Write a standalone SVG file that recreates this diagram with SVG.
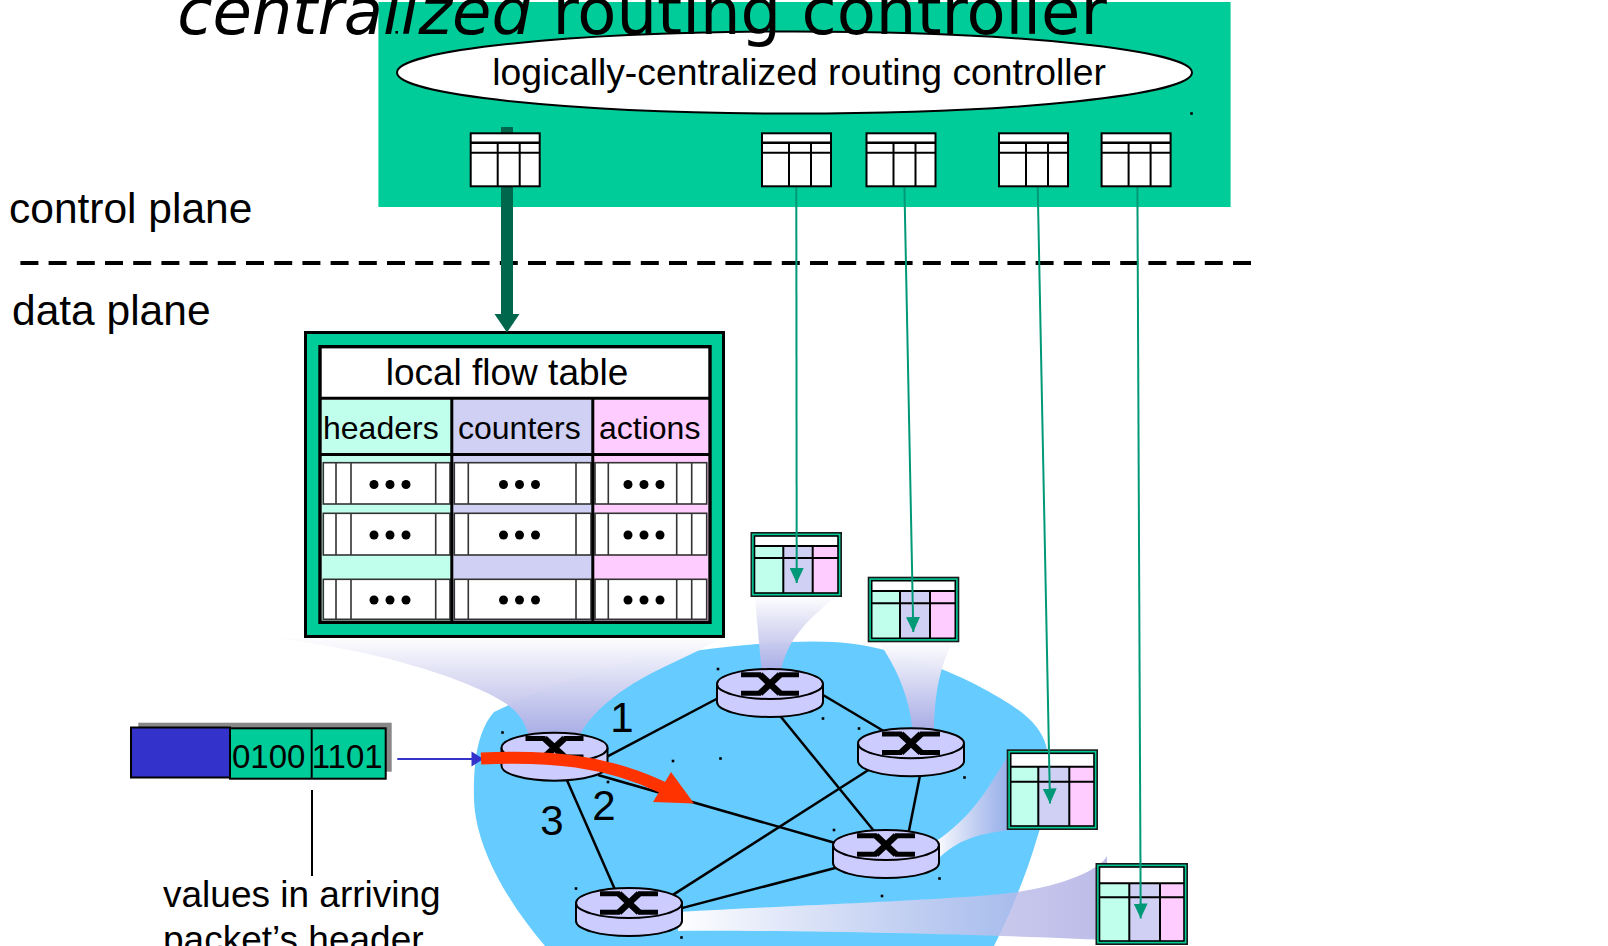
<svg xmlns="http://www.w3.org/2000/svg" xmlns:xlink="http://www.w3.org/1999/xlink" width="1608" height="946" viewBox="0 0 1608 946">
<style>
  .sans { font-family: "Liberation Sans", Arial, sans-serif; fill: #000; }
  .title { font-family: "DejaVu Sans", "Liberation Sans", sans-serif; fill: #000; }
  .link { stroke: #000; stroke-width: 2.5; fill: none; }
  .feed { stroke: #009977; stroke-width: 2; fill: none; marker-end: url(#tip); }
  .mint { fill: #C0FFEC; }
  .lav { fill: #D0D0F4; }
  .pink { fill: #FFCCFF; }
  .entry { fill: #fff; stroke: #333; stroke-width: 1.6; }
  .sub { stroke: #333; stroke-width: 1.6; fill: none; }
  .frame { fill: #00CC99; stroke: #1a1a1a; stroke-width: 1.6; }
  .inner { fill: none; stroke: #000; stroke-width: 1.6; }
  .mgrid { stroke: #000; stroke-width: 2; fill: none; }
  .handle { fill: #000; }
</style>
<defs>
  <marker id="tip" markerUnits="userSpaceOnUse" viewBox="0 0 15 14" markerWidth="15" markerHeight="14" refX="15" refY="7" orient="auto">
    <path d="M0,0 L15,7 L0,14 z" fill="#009977"/>
  </marker>
  <linearGradient id="fadeDown" x1="0" y1="0" x2="0" y2="1">
    <stop offset="0" stop-color="#fff"/>
    <stop offset="1" stop-color="#A6A6E2" stop-opacity="0.95"/>
  </linearGradient>
  <linearGradient id="fadeRight" x1="0" y1="0" x2="1" y2="0">
    <stop offset="0" stop-color="#fff"/>
    <stop offset="1" stop-color="#A6A6E2" stop-opacity="0.75"/>
  </linearGradient>
  <g id="router">
    <path d="M-53,0 V18 A53,15 0 0 0 53,18 V0" fill="#CCCCFF" stroke="#000" stroke-width="2"/>
    <ellipse cx="0" cy="0" rx="53" ry="15" fill="#CCCCFF" stroke="#000" stroke-width="2"/>
    <path d="M-29,-9.3 H-9 M9,-9.3 H29 M-29,9.3 H-9 M9,9.3 H29" fill="none" stroke="#000" stroke-width="5"/>
    <path d="M-10,-9.3 L10,9.3 M-10,9.3 L10,-9.3" fill="none" stroke="#000" stroke-width="6.5"/>
  </g>
  <g id="ctl-table">
    <rect x="0" y="0" width="69" height="53" fill="#fff" stroke="#000" stroke-width="2"/>
    <path d="M0,9.5 H69" stroke="#000" stroke-width="2.5"/>
    <path d="M0,19.5 H69 M27,9.5 V53 M49,9.5 V53" stroke="#000" stroke-width="2" fill="none"/>
  </g>
  <g id="dots">
    <circle cx="-16" cy="0" r="4.5"/>
    <circle cx="0" cy="0" r="4.5"/>
    <circle cx="16" cy="0" r="4.5"/>
  </g>
</defs>

<!-- network cloud -->
<path id="cloud" fill="#66CCFF" d="M545,946 C510,905 476,850 474,800 C473,760 478,730 494,712 C540,690 590,672 625,663 C680,652 730,645 790,642 C830,640 860,643 885,650 C930,662 970,680 1000,698 C1025,713 1045,728 1048,755 C1050,790 1045,815 1038,835 C1028,870 1012,910 994,946 Z"/>

<!-- zoom-in callouts from routers to their flow tables -->
<g id="callouts">
  <path fill="url(#fadeDown)" d="M273,638 C380,650 470,680 505,703 C520,713 527,725 530,742 L576,742 C590,712 620,688 664,667 C690,655 710,645 724,636 Z"/>
  <path fill="url(#fadeDown)" d="M755,595 C757,625 760,650 762,676 L780,676 C785,645 800,625 838,595 Z"/>
  <path fill="url(#fadeDown)" d="M878,641 C895,665 910,695 913,735 L934,735 C934,700 938,670 953,641 Z"/>
  <path fill="url(#fadeRight)" d="M935,842 C975,815 990,785 1010,752 L1010,830 C970,835 955,842 935,862 Z"/>
  <path fill="url(#fadeRight)" d="M678,912 C800,905 950,900 1010,893 C1060,887 1100,870 1107,856 L1107,940 C1000,935 800,930 678,931 Z"/>
</g>

<!-- control / data plane divider -->
<line x1="20.4" y1="263" x2="1252" y2="263" stroke="#000" stroke-width="4.2" stroke-dasharray="18 10.2"/>
<text class="sans" x="9" y="222.5" font-size="42.5">control plane</text>
<text class="sans" x="12" y="325" font-size="42.5">data plane</text>

<!-- router links -->
<g id="links">
  <line class="link" x1="600" y1="760.4" x2="724" y2="695"/>
  <line class="link" x1="818" y1="692" x2="887" y2="733"/>
  <line class="link" x1="779" y1="714.5" x2="876" y2="833.5"/>
  <line class="link" x1="870" y1="769" x2="667" y2="898.6"/>
  <line class="link" x1="920.3" y1="774" x2="908.3" y2="834"/>
  <line class="link" x1="598" y1="775" x2="838" y2="843.8"/>
  <line class="link" x1="566" y1="778" x2="616" y2="892"/>
  <line class="link" x1="838" y1="867.2" x2="676" y2="909.6"/>
</g>

<g id="router-1"><use xlink:href="#router" href="#router" transform="translate(554.5,747.7)"/></g>
<g id="router-2"><use xlink:href="#router" href="#router" transform="translate(770,684)"/></g>
<g id="router-3"><use xlink:href="#router" href="#router" transform="translate(911,743.3)"/></g>
<g id="router-4"><use xlink:href="#router" href="#router" transform="translate(886,845)"/></g>
<g id="router-5"><use xlink:href="#router" href="#router" transform="translate(629,903)"/></g>

<!-- port labels -->
<text class="sans" x="622" y="732" font-size="42" text-anchor="middle">1</text>
<text class="sans" x="604" y="820" font-size="42" text-anchor="middle">2</text>
<text class="sans" x="552" y="835" font-size="42" text-anchor="middle">3</text>

<!-- local flow table -->
<g id="flow-table">
  <rect x="305.5" y="332.5" width="418" height="304" fill="#00CC99" stroke="#000" stroke-width="3"/>
  <rect x="320" y="346.7" width="390" height="275.6" fill="#fff"/>
  <rect class="mint" x="321.7" y="399.8" width="130" height="221"/>
  <rect class="lav" x="451.7" y="399.8" width="141" height="221"/>
  <rect class="pink" x="592.8" y="399.8" width="115.5" height="221"/>
  <!-- entries -->
  <rect class="entry" x="323.3" y="462.7" width="126.7" height="41.3"/>
  <rect class="entry" x="454.3" y="462.7" width="136.7" height="41.3"/>
  <rect class="entry" x="595" y="462.7" width="111.7" height="41.3"/>
  <path class="sub" d="M336,462.7V504 M351,462.7V504 M435.7,462.7V504 M468.3,462.7V504 M576,462.7V504 M608.3,462.7V504 M676.7,462.7V504 M691.7,462.7V504"/>
  <rect class="entry" x="323.3" y="513.3" width="126.7" height="41.7"/>
  <rect class="entry" x="454.3" y="513.3" width="136.7" height="41.7"/>
  <rect class="entry" x="595" y="513.3" width="111.7" height="41.7"/>
  <path class="sub" d="M336,513.3V555 M351,513.3V555 M435.7,513.3V555 M468.3,513.3V555 M576,513.3V555 M608.3,513.3V555 M676.7,513.3V555 M691.7,513.3V555"/>
  <rect class="entry" x="323.3" y="579.3" width="126.7" height="40"/>
  <rect class="entry" x="454.3" y="579.3" width="136.7" height="40"/>
  <rect class="entry" x="595" y="579.3" width="111.7" height="40"/>
  <path class="sub" d="M336,579.3V619.3 M351,579.3V619.3 M435.7,579.3V619.3 M468.3,579.3V619.3 M576,579.3V619.3 M608.3,579.3V619.3 M676.7,579.3V619.3 M691.7,579.3V619.3"/>
  <use xlink:href="#dots" href="#dots" x="390" y="484.5"/>
  <use xlink:href="#dots" href="#dots" x="519.5" y="484.5"/>
  <use xlink:href="#dots" href="#dots" x="644" y="484.5"/>
  <use xlink:href="#dots" href="#dots" x="390" y="535"/>
  <use xlink:href="#dots" href="#dots" x="519.5" y="535"/>
  <use xlink:href="#dots" href="#dots" x="644" y="535"/>
  <use xlink:href="#dots" href="#dots" x="390" y="600"/>
  <use xlink:href="#dots" href="#dots" x="519.5" y="600"/>
  <use xlink:href="#dots" href="#dots" x="644" y="600"/>
  <!-- grid -->
  <rect x="320" y="346.7" width="390" height="275.6" fill="none" stroke="#000" stroke-width="3.4"/>
  <path d="M320,398.3 H710 M320,454.5 H710 M451.8,397 V622 M592.8,397 V622" stroke="#000" stroke-width="3" fill="none"/>
  <text class="sans" x="507" y="385" font-size="37" text-anchor="middle">local flow table</text>
  <text class="sans" x="323" y="439" font-size="32">headers</text>
  <text class="sans" x="458" y="439" font-size="32">counters</text>
  <text class="sans" x="599" y="439" font-size="32">actions</text>
</g>

<!-- per-router flow tables -->
<g id="table-r2">
  <rect class="frame" x="751.3" y="532.8" width="89.9" height="63.4"/>
  <rect x="754.5" y="536" width="83.5" height="57" fill="#fff"/>
  <rect class="mint" x="754.5" y="546" width="28.8" height="47"/>
  <rect class="lav" x="783.3" y="546" width="29.4" height="47"/>
  <rect class="pink" x="812.7" y="546" width="25.3" height="47"/>
  <path class="mgrid" d="M754.5,546 H838 M754.5,558 H838 M783.3,546 V593 M812.7,546 V593"/>
  <rect class="inner" x="754.5" y="536" width="83.5" height="57"/>
</g>
<g id="table-r3">
  <rect class="frame" x="868.5" y="577.5" width="90" height="64"/>
  <rect x="871.7" y="580.7" width="83.6" height="57.6" fill="#fff"/>
  <rect class="mint" x="871.7" y="591" width="28.3" height="47.3"/>
  <rect class="lav" x="900" y="591" width="30" height="47.3"/>
  <rect class="pink" x="930" y="591" width="25.3" height="47.3"/>
  <path class="mgrid" d="M871.7,591 H955.3 M871.7,603.3 H955.3 M900,591 V638.3 M930,591 V638.3"/>
  <rect class="inner" x="871.7" y="580.7" width="83.6" height="57.6"/>
</g>
<g id="table-r4">
  <rect class="frame" x="1007.5" y="750.1" width="89.7" height="79.1"/>
  <rect x="1010.7" y="753.3" width="83.3" height="72.7" fill="#fff"/>
  <rect class="mint" x="1010.7" y="766.7" width="27.6" height="59.3"/>
  <rect class="lav" x="1038.3" y="766.7" width="31" height="59.3"/>
  <rect class="pink" x="1069.3" y="766.7" width="24.7" height="59.3"/>
  <path class="mgrid" d="M1010.7,766.7 H1094 M1010.7,781.7 H1094 M1038.3,766.7 V826 M1069.3,766.7 V826"/>
  <rect class="inner" x="1010.7" y="753.3" width="83.3" height="72.7"/>
</g>
<g id="table-r5">
  <rect class="frame" x="1096.3" y="863.8" width="90.9" height="80.4"/>
  <rect x="1099.5" y="867" width="84.5" height="74" fill="#fff"/>
  <rect class="mint" x="1099.5" y="883.3" width="29.8" height="57.7"/>
  <rect class="lav" x="1129.3" y="883.3" width="30.7" height="57.7"/>
  <rect class="pink" x="1160" y="883.3" width="24" height="57.7"/>
  <path class="mgrid" d="M1099.5,883.3 H1184 M1099.5,897.3 H1184 M1129.3,883.3 V941 M1160,883.3 V941"/>
  <rect class="inner" x="1099.5" y="867" width="84.5" height="74"/>
</g>

<!-- arriving packet -->
<g id="packet">
  <rect x="138.3" y="722.7" width="253.4" height="49" fill="#888"/>
  <rect x="131" y="727.5" width="99" height="50" fill="#3333CC" stroke="#000" stroke-width="2"/>
  <rect x="230" y="728.3" width="155.7" height="50.4" fill="#00CC99" stroke="#000" stroke-width="2"/>
  <line x1="311.7" y1="728.3" x2="311.7" y2="778.7" stroke="#000" stroke-width="2"/>
  <text class="sans" x="232" y="768" font-size="33">0100</text>
  <text class="sans" x="311.7" y="768" font-size="33">1101</text>
</g>
<g id="packet-note">
  <line x1="312" y1="790" x2="312" y2="876" stroke="#000" stroke-width="2"/>
  <text class="sans" font-size="37"><tspan x="163" y="907">values in arriving</tspan><tspan x="163" y="951.5">packet’s header</tspan></text>
</g>

<!-- controller panel -->
<g id="controller">
  <rect x="378.4" y="2" width="852.2" height="205" fill="#00CC99"/>
</g>

<g id="connectors">
  <!-- packet into router 1 -->
  <line x1="397.3" y1="759" x2="472" y2="759" stroke="#3333CC" stroke-width="2"/>
  <polygon points="471.5,751.5 483.5,759 471.5,766.5" fill="#3333CC"/>
  <!-- forwarding decision -->
  <path d="M481,758.5 C550,755.5 605,760 664,788" fill="none" stroke="#FF3300" stroke-width="12"/>
  <polygon points="671,772 694,803.5 653,802" fill="#FF3300"/>
  <!-- controller installs table entries -->
  <rect x="501" y="127" width="12" height="189" fill="#00664C"/>
  <polygon points="494.5,314 519.5,314 507,332.5" fill="#00664C"/>
  <line class="feed" x1="796.3" y1="186" x2="796.7" y2="583"/>
  <line class="feed" x1="904.4" y1="186" x2="913.3" y2="632"/>
  <line class="feed" x1="1037.7" y1="186" x2="1050" y2="803.5"/>
  <line class="feed" x1="1137.4" y1="186" x2="1140.7" y2="918.5"/>
</g>

<g id="controller-tables">
  <g id="ctl-table-1"><use xlink:href="#ctl-table" href="#ctl-table" x="470.7" y="133.3"/></g>
  <g id="ctl-table-2"><use xlink:href="#ctl-table" href="#ctl-table" x="762" y="133.3"/></g>
  <g id="ctl-table-3"><use xlink:href="#ctl-table" href="#ctl-table" x="866.5" y="133.3"/></g>
  <g id="ctl-table-4"><use xlink:href="#ctl-table" href="#ctl-table" x="999" y="133.3"/></g>
  <g id="ctl-table-5"><use xlink:href="#ctl-table" href="#ctl-table" x="1101.6" y="133.3"/></g>
</g>

<g id="routing-controller">
  <ellipse cx="794.5" cy="72.5" rx="397.5" ry="41" fill="#fff" stroke="#000" stroke-width="2"/>
  <text class="sans" x="799" y="85" font-size="37.3" text-anchor="middle">logically-centralized routing controller</text>
</g>

<text class="title" x="642" y="33.5" font-size="64" text-anchor="middle"><tspan font-style="italic">centralized</tspan> routing controller</text>

<!-- small shape handles -->
<g id="handles" class="handle">
  <rect x="395.4" y="31" width="2.6" height="2.6"/>
  <rect x="1190.2" y="112.2" width="2.6" height="2.6"/>
  <rect x="501.2" y="731.2" width="2.6" height="2.6"/>
  <rect x="606.7" y="780.7" width="2.6" height="2.6"/>
  <rect x="671.7" y="759.7" width="2.6" height="2.6"/>
  <rect x="719.2" y="757.2" width="2.6" height="2.6"/>
  <rect x="716.7" y="667.7" width="2.6" height="2.6"/>
  <rect x="821.7" y="717.2" width="2.6" height="2.6"/>
  <rect x="857.7" y="727.2" width="2.6" height="2.6"/>
  <rect x="963.2" y="776.2" width="2.6" height="2.6"/>
  <rect x="832.7" y="828.7" width="2.6" height="2.6"/>
  <rect x="938.2" y="877.2" width="2.6" height="2.6"/>
  <rect x="880.7" y="894.7" width="2.6" height="2.6"/>
  <rect x="574.7" y="887.2" width="2.6" height="2.6"/>
  <rect x="680.2" y="936.2" width="2.6" height="2.6"/>
</g>
</svg>
